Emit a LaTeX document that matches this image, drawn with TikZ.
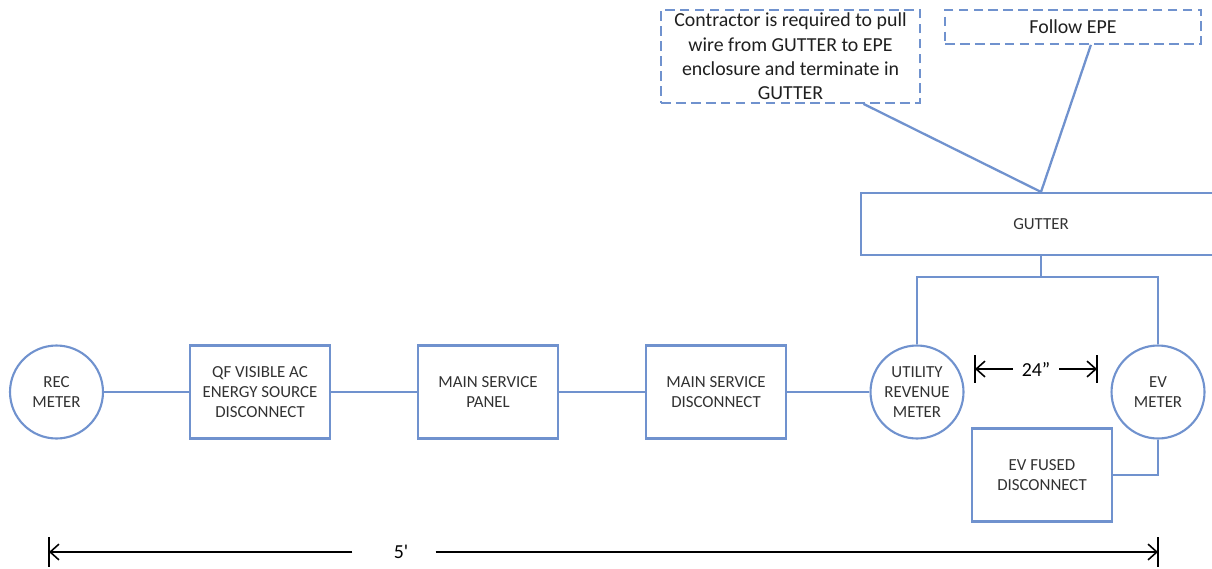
\documentclass[tikz,border=0pt]{standalone}
\usepackage{fontspec}
\setmainfont{Carlito}
\usepackage{xcolor}
\usetikzlibrary{arrows.meta}
\definecolor{wireblue}{RGB}{112,146,206}
\definecolor{labelgray}{RGB}{50,50,50}

\begin{document}
\begin{tikzpicture}[x=0.02cm,y=-0.02cm,
    unit/.style={draw=wireblue,line width=1.2pt,rectangle,minimum width=2.8cm,
        minimum height=1.86cm,align=center,text=labelgray,
        font=\fontsize{9.6}{11.3}\selectfont,inner sep=2pt},
    meter/.style={unit,circle,minimum size=1.86cm,inner sep=0pt},
    note/.style={draw=wireblue,line width=1pt,dash pattern=on 5.5pt off 3pt,
        align=center,text=black!88,font=\fontsize{11.3}{13.8}\selectfont,inner sep=0pt},
    wire/.style={wireblue,line width=1.3pt},
    dim/.style={black,line width=0.9pt},
    tip/.style={-{Straight Barb[length=5pt,width=9pt]}}]
\useasboundingbox (0,0) rectangle (1212,568);

\node[meter] (rec) at (56.5,392) {REC\\METER};
\node[unit] (qf) at (260,392) {QF VISIBLE AC\\ENERGY SOURCE\\DISCONNECT};
\node[unit] (panel) at (488,392) {MAIN SERVICE\\PANEL};
\node[unit] (msd) at (716,392) {MAIN SERVICE\\DISCONNECT};
\node[meter] (util) at (917,392) {UTILITY\\REVENUE\\METER};
\node[meter] (evm) at (1158,392) {EV\\METER};
\node[unit] (fused) at (1042,475) {EV FUSED\\DISCONNECT};
\node[unit,minimum width=7.2cm,minimum height=1.24cm] (gutter) at (1041,224) {GUTTER};
\node[note,minimum width=5.18cm,minimum height=1.86cm] (pull) at (790.5,56.5)
    {Contractor is required to pull\\wire from GUTTER to EPE\\enclosure and terminate in\\GUTTER};
\node[note,minimum width=5.12cm,minimum height=0.68cm] (epe) at (1073,27) {Follow EPE};

\draw[wire] (rec) -- (qf) -- (panel) -- (msd) -- (util);
\coordinate (bus) at (1041,277);
\draw[wire] (gutter) -- (bus);
\draw[wire] (util.north) |- (bus) -| (evm.north);
\draw[wire] (evm.south) |- (fused.east);
\draw[wire] (pull.-33) -- (gutter.north) -- (epe.-45);

\begin{scope}[font=\fontsize{11.3}{13}\selectfont]
    \node[inner sep=5pt] (inch) at (1036,369) {24''};
    \coordinate (l24) at (975,369);
    \coordinate (r24) at (1097,369);
    \draw[dim,tip] (inch) -- (l24);
    \draw[dim,tip] (inch) -- (r24);
    \draw[dim] ([yshift=0.28cm]l24) -- ([yshift=-0.28cm]l24);
    \draw[dim] ([yshift=0.28cm]r24) -- ([yshift=-0.28cm]r24);

    \node[inner sep=0pt] (five) at (401,552) {5\textquotesingle};
    \coordinate (l5) at (49,552);
    \coordinate (r5) at (1158,552);
    \draw[dim,tip,shorten <=0.82cm] (five) -- (l5);
    \draw[dim,tip,shorten <=0.54cm] (five) -- (r5);
    \draw[dim] ([yshift=0.3cm]l5) -- ([yshift=-0.3cm]l5);
    \draw[dim] ([yshift=0.3cm]r5) -- ([yshift=-0.3cm]r5);
\end{scope}
\end{tikzpicture}
\end{document}
